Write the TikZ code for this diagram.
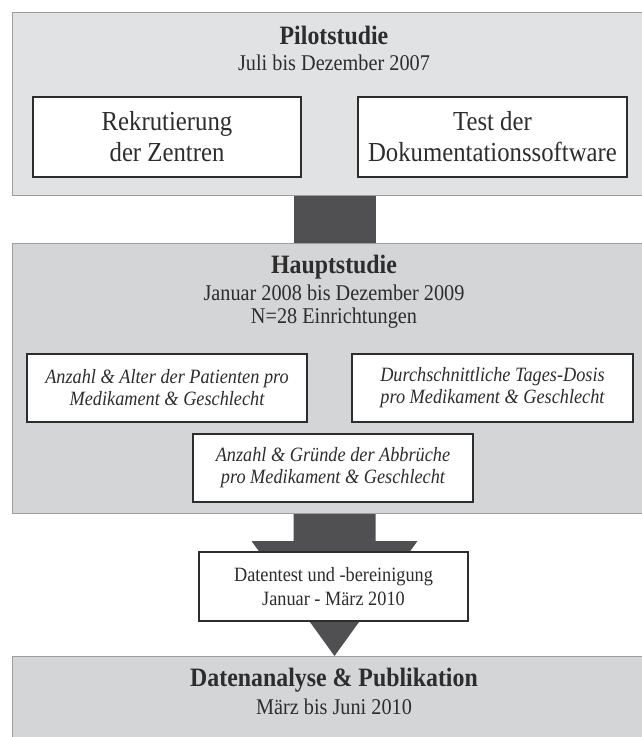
\documentclass[tikz,border=0pt]{standalone}
\usepackage{fontspec}
\setmainfont{Liberation Serif}[FakeStretch=0.9]
\usetikzlibrary{shapes.geometric, arrows, calc}
\definecolor{pilotgray}{RGB}{225,226,228}
\definecolor{phasegray}{RGB}{212,213,215}
\definecolor{framegray}{RGB}{158,158,160}
\definecolor{arrowgray}{RGB}{80,80,82}
\definecolor{inkgray}{RGB}{45,45,45}

\begin{document}
\begin{tikzpicture}[x=1pt, y=-1pt]
	\tikzstyle{phase} = [rectangle, anchor=north west, draw=framegray, line width=1pt, inner sep=0pt, minimum width=644pt]
	\tikzstyle{task} = [rectangle, draw=inkgray, fill=white, line width=1.3pt, align=center, text=inkgray, inner sep=0pt]
	\tikzstyle{phasetitle} = [font=\fontsize{26.5}{30}\selectfont\bfseries, text=inkgray]
	\tikzstyle{phasedate} = [font=\fontsize{22.5}{26}\selectfont, text=inkgray]
	\useasboundingbox (0,0) rectangle (641,737);

	\node[phase, fill=pilotgray, minimum height=183pt] at (12,12) (pilot) {};
	\node[phase, fill=phasegray, minimum height=270pt] at (12,243) (haupt) {};
	\node[phase, fill=phasegray, minimum height=100pt] at (12,656) (analyse) {};

	\node[phasetitle] at (334,35) (pilottitle) {Pilotstudie};
	\node[phasedate] at (334,63) (pilotdate) {Juli bis Dezember 2007};
	\node[task, minimum width=268pt, minimum height=80pt, font=\fontsize{27.5}{31}\selectfont] at (167,137) (rekrut) {Rekrutierung\\der Zentren};
	\node[task, minimum width=269pt, minimum height=80pt, font=\fontsize{27.5}{31}\selectfont] at (492.5,137) (doku) {Test der\\Dokumentationssoftware};

	\node[phasetitle] at (334,267) (haupttitle) {Hauptstudie};
	\node[phasedate] at (334,293) (hauptdate) {Januar 2008 bis Dezember 2009};
	\node[phasedate] at (334,318) (hauptcount) {N=28 Einrichtungen};
	\node[task, minimum width=280pt, minimum height=68pt, font=\fontsize{20.3}{22}\selectfont\itshape] at (167,388) (anzahl) {Anzahl \& Alter der Patienten pro\\Medikament \& Geschlecht};
	\node[task, minimum width=281pt, minimum height=68pt, font=\fontsize{20.3}{22}\selectfont\itshape] at (492.5,388) (dosis) {Durchschnittliche Tages-Dosis\\pro Medikament \& Geschlecht};
	\node[task, minimum width=280pt, minimum height=68pt, font=\fontsize{20.3}{22}\selectfont\itshape] at (333,468) (abbruch) {Anzahl \& Gründe der Abbrüche\\pro Medikament \& Geschlecht};

	\node[phasetitle] at (334,680) (analysetitle) {Datenanalyse \& Publikation};
	\node[phasedate] at (334,707) (analysedate) {März bis Juni 2010};

	% block arrows between the phases
	\fill[arrowgray] ($(pilot.south)+(-41,0)$) rectangle ($(haupt.north)+(41,0)$);
	\fill[arrowgray] ($(haupt.south)+(-41,0)$) -- ($(haupt.south)+(41,0)$) -- ($(haupt.south)+(41,27)$) -- ($(haupt.south)+(83,27)$)
		-- (analyse.north) -- ($(haupt.south)+(-83,27)$) -- ($(haupt.south)+(-41,27)$) -- cycle;

	\node[task, minimum width=269pt, minimum height=69pt, font=\fontsize{20.3}{24}\selectfont] at (333.5,586.5) (datentest) {Datentest und -bereinigung\\Januar - März 2010};
\end{tikzpicture}
\end{document}
